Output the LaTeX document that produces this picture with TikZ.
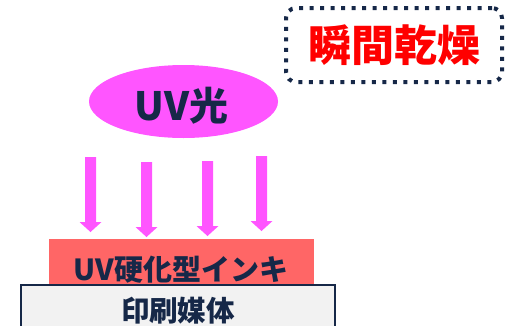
\documentclass[tikz,border=0pt]{standalone}
\usepackage{fontspec}
\newfontfamily\jp{Noto Sans CJK JP}
\definecolor{navy}{RGB}{22,40,72}
\definecolor{mag}{RGB}{255,85,255}
\definecolor{inkred}{RGB}{255,102,102}
\definecolor{media}{RGB}{242,242,242}
\definecolor{dryred}{RGB}{255,0,0}
\begin{document}
\begin{tikzpicture}[x=1pt,y=-1pt,
  lbl/.style={font=\jp\bfseries, text=navy, inner sep=0pt},
  uvarrow/.style={fill=mag, draw=none}]
\useasboundingbox (0,0) rectangle (507,325);
\begin{scope}
\clip (0,0) rectangle (507,325);
% dotted box
\node[draw=navy, line width=4pt, dash pattern=on 4pt off 6.5pt, rounded corners=10pt,
  minimum width=216pt, minimum height=74pt, inner sep=0pt] (dry) at (394,45) {};
\node[font=\jp\bfseries, text=dryred, inner sep=0pt] (drytxt) at (394,45) {\fontsize{43}{43}\selectfont 瞬間乾燥};
% ellipse
\fill[mag] (183.5,101.5) ellipse [x radius=94.5pt, y radius=36.5pt];
\node[lbl] (uv) at (181.5,106) {\fontsize{39}{39}\selectfont UV光};
% arrows
\foreach \cx/\top/\tip in {90.5/157/232, 146.5/162/237, 207.5/161/236, 261.5/156/231}{
  \fill[mag] (\cx-5.5,\top) -- (\cx+5.5,\top) -- (\cx+5.5,\tip-10) -- (\cx+11,\tip-10)
     -- (\cx,\tip) -- (\cx-11,\tip-10) -- (\cx-5.5,\tip-10) -- cycle;
}
% ink layer
\fill[inkred] (49,239) rectangle (314,285);
\node[lbl] (ink) at (181,270) {\fontsize{29}{29}\selectfont UV硬化型インキ};
% media
\draw[navy, fill=media, line width=2pt] (21,285) rectangle (335,345);
\node[lbl] (med) at (178,311) {\fontsize{28.5}{28.5}\selectfont 印刷媒体};
\end{scope}
\end{tikzpicture}
\end{document}
